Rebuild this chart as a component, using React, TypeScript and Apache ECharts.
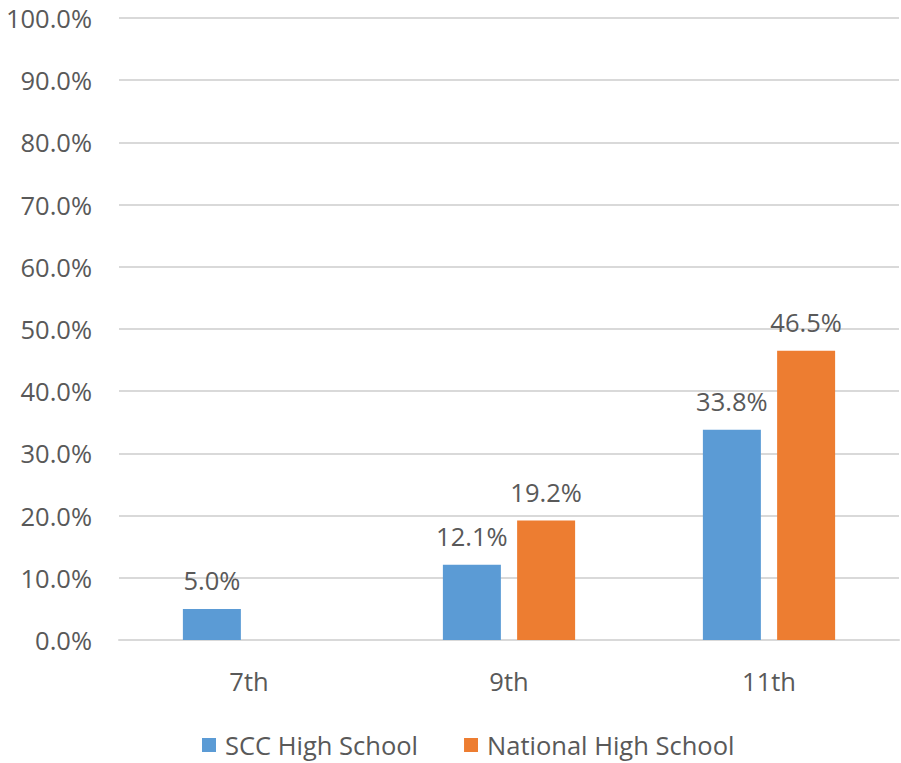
import React, { useEffect, useRef } from "react";
import * as echarts from "echarts";

const categories = ["7th", "9th", "11th"];
const sccValues: (number | null)[] = [5.0, 12.1, 33.8];
const nationalValues: (number | null)[] = [null, 19.2, 46.5];
const seriesNames = ["SCC High School", "National High School"];

const FONT = "'Open Sans', 'Noto Sans', sans-serif";
const FS = 25.5;

export default function App() {
  const ref = useRef<HTMLDivElement>(null);
  useEffect(() => {
    if (!ref.current) return;
    const chart = echarts.init(ref.current, undefined, { renderer: "svg" });
    const label = {
      show: true,
      position: "top",
      distance: 16,
      color: "#595959",
      fontSize: FS,
      fontFamily: FONT,
      formatter: (p: any) => (p.value == null ? "" : Number(p.value).toFixed(1) + "%"),
    };
    chart.setOption({
      animation: false,
      backgroundColor: "#ffffff",
      grid: { left: 119, right: 2, top: 18, bottom: 123, containLabel: false },
      legend: {
        bottom: 0,
        left: 197,
        itemWidth: 14,
        itemHeight: 14,
        itemGap: 46,
        icon: "rect",
        textStyle: { color: "#595959", fontSize: FS, fontFamily: FONT, padding: [0, 0, 0, 4] },
        data: seriesNames,
      },
      xAxis: {
        type: "category",
        data: categories,
        axisLine: { show: true, lineStyle: { color: "#D9D9D9", width: 2 } },
        axisTick: { show: false },
        axisLabel: { color: "#595959", fontSize: FS, fontFamily: FONT, margin: 28 },
      },
      yAxis: {
        type: "value",
        min: 0,
        max: 100,
        interval: 10,
        axisLine: { show: false },
        axisTick: { show: false },
        splitLine: { lineStyle: { color: "#D9D9D9", width: 2 } },
        axisLabel: {
          color: "#595959",
          fontSize: FS,
          fontFamily: FONT,
          margin: 27,
          formatter: (v: number) => v.toFixed(1) + "%",
        },
      },
      series: [
        {
          name: seriesNames[0],
          type: "bar",
          data: sccValues,
          barWidth: 58,
          barGap: "28%",
          itemStyle: { color: "#5B9BD5" },
          label,
        },
        {
          name: seriesNames[1],
          type: "bar",
          data: nationalValues,
          barWidth: 58,
          barGap: "28%",
          itemStyle: { color: "#ED7D31" },
          label,
        },
      ],
    });
    return () => chart.dispose();
  }, []);
  return (
    <div
      ref={ref}
      style={{ position: "fixed", left: 0, top: 0, width: 901, height: 763, background: "#fff" }}
    />
  );
}
